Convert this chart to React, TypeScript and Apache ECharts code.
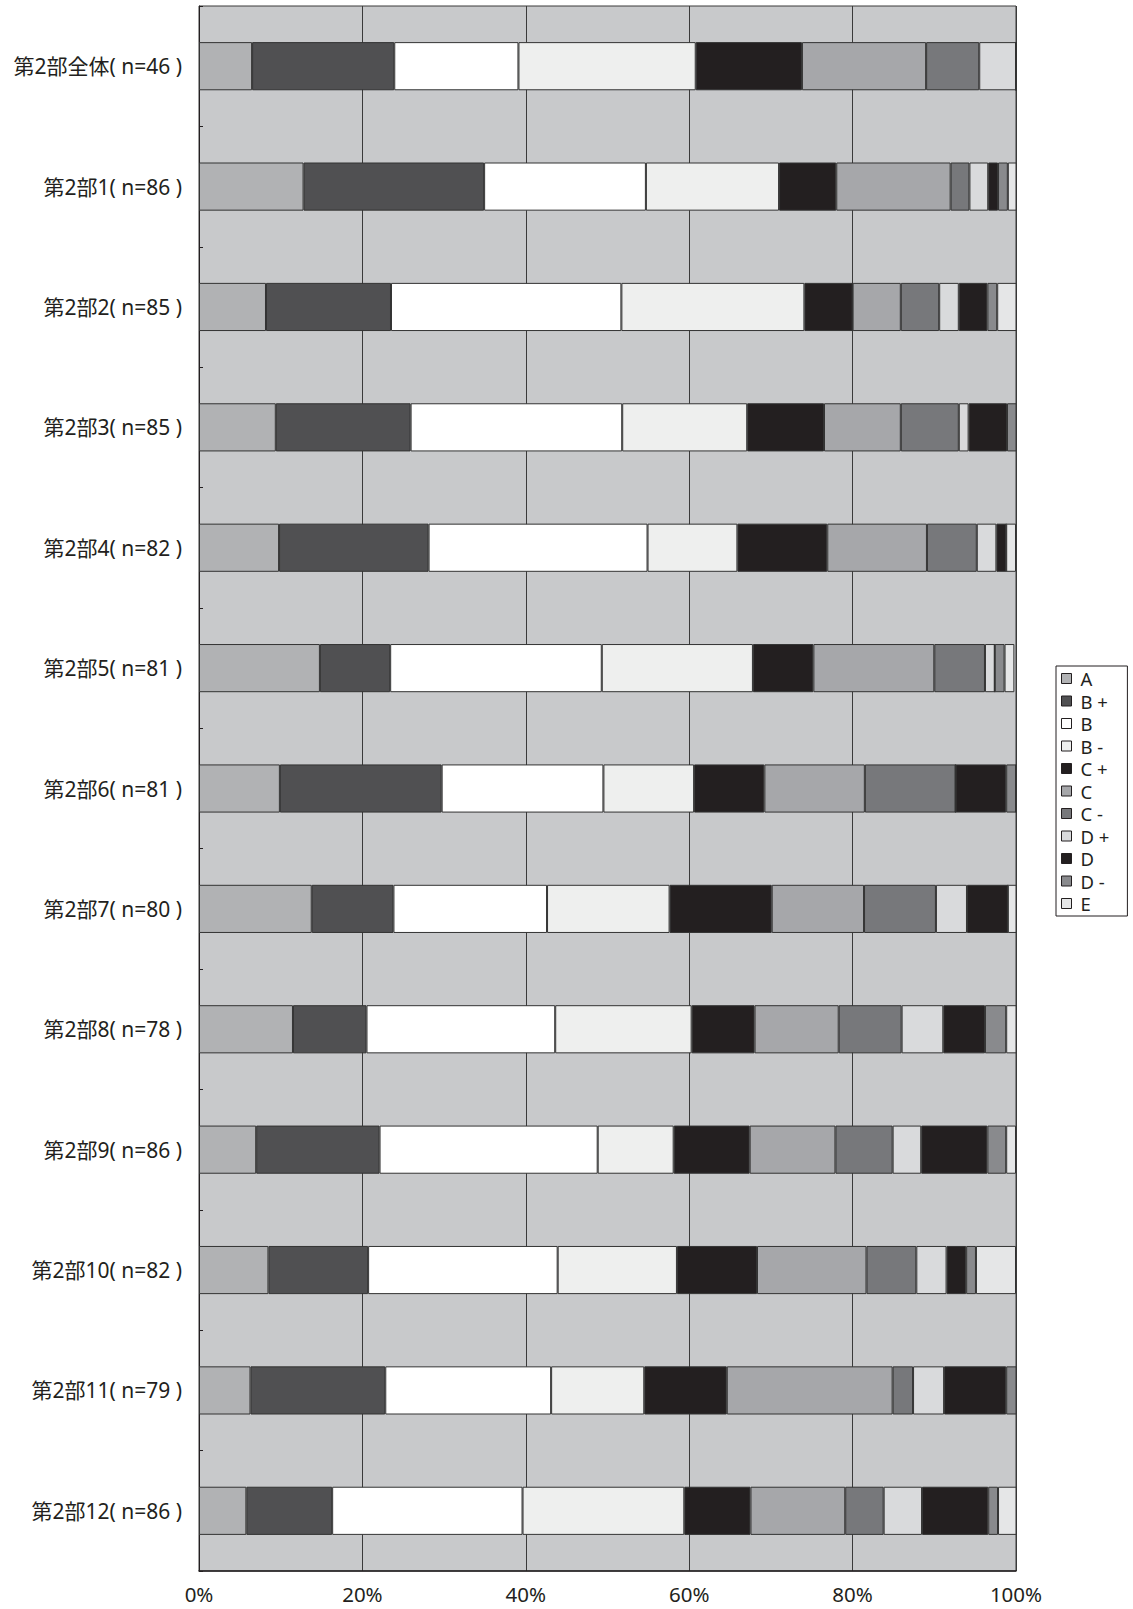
import React, { useEffect, useRef } from "react";
import * as echarts from "echarts";

const categories = [
  "第2部全体( n=46 )",
  "第2部1( n=86 )",
  "第2部2( n=85 )",
  "第2部3( n=85 )",
  "第2部4( n=82 )",
  "第2部5( n=81 )",
  "第2部6( n=81 )",
  "第2部7( n=80 )",
  "第2部8( n=78 )",
  "第2部9( n=86 )",
  "第2部10( n=82 )",
  "第2部11( n=79 )",
  "第2部12( n=86 )",
];

const seriesNames = ["A", "B +", "B", "B -", "C +", "C", "C -", "D +", "D", "D -", "E"];

const valA = [6.5, 12.8, 8.2, 9.4, 9.8, 14.8, 9.9, 13.8, 11.5, 7.0, 8.5, 6.3, 5.8];
const valBPlus = [17.4, 22.1, 15.3, 16.5, 18.3, 8.6, 19.8, 10.0, 9.0, 15.1, 12.2, 16.5, 10.5];
const valB = [15.2, 19.8, 28.2, 25.9, 26.8, 25.9, 19.8, 18.8, 23.1, 26.7, 23.2, 20.3, 23.3];
const valBMinus = [21.7, 16.3, 22.4, 15.3, 11.0, 18.5, 11.1, 15.0, 16.7, 9.3, 14.6, 11.4, 19.8];
const valCPlus = [13.0, 7.0, 5.9, 9.4, 11.0, 7.4, 8.6, 12.5, 7.7, 9.3, 9.8, 10.1, 8.1];
const valC = [15.2, 14.0, 5.9, 9.4, 12.2, 14.8, 12.3, 11.3, 10.3, 10.5, 13.4, 20.3, 11.6];
const valCMinus = [6.5, 2.3, 4.7, 7.1, 6.1, 6.2, 11.1, 8.8, 7.7, 7.0, 6.1, 2.5, 4.7];
const valDPlus = [4.5, 2.3, 2.4, 1.2, 2.4, 1.2, 0, 3.8, 5.1, 3.5, 3.7, 3.8, 4.7];
const valD = [0, 1.2, 3.5, 4.7, 1.2, 0, 6.2, 5.0, 5.1, 8.1, 2.4, 7.6, 8.1];
const valDMinus = [0, 1.2, 1.2, 1.2, 0, 1.2, 1.2, 0, 2.6, 2.3, 1.2, 1.3, 1.2];
const valE = [0, 1.2, 2.4, 0, 1.2, 1.2, 0, 1.3, 1.3, 1.2, 4.9, 0, 2.3];

const xTicks = [0, 20, 40, 60, 80, 100];

const seriesValues = [valA, valBPlus, valB, valBMinus, valCPlus, valC, valCMinus, valDPlus, valD, valDMinus, valE];
const seriesColors = [
  "#b1b2b4",
  "#505052",
  "#ffffff",
  "#eeefee",
  "#231f20",
  "#a6a7aa",
  "#77787b",
  "#d9dadc",
  "#231f20",
  "#898a8d",
  "#e5e6e7",
];

export default function App() {
  const ref = useRef<HTMLDivElement>(null);

  useEffect(() => {
    if (!ref.current) return;
    const chart = echarts.init(ref.current, null, { renderer: "svg" });
    const dark = "#231f20";
    chart.setOption({
      animation: false,
      backgroundColor: "#ffffff",
      grid: {
        left: 199,
        top: 6,
        right: 117,
        height: 1565,
        show: true,
        backgroundColor: "#c8c9cb",
        borderColor: "#3a3a3a",
        borderWidth: 1,
        containLabel: false,
      },
      legend: {
        orient: "vertical",
        left: 1056,
        top: 666,
        data: seriesNames,
        icon: "rect",
        itemWidth: 10,
        itemHeight: 10,
        itemGap: 1.5,
        padding: [2, 18, 2, 5],
        borderColor: dark,
        borderWidth: 1,
        itemStyle: { borderColor: dark, borderWidth: 1 },
        textStyle: {
          fontFamily: "Noto Sans",
          fontSize: 18.5,
          lineHeight: 21,
          color: dark,
          padding: [0, 0, 0, 4],
        },
        selectedMode: false,
      },
      xAxis: {
        type: "value",
        min: xTicks[0],
        max: xTicks[xTicks.length - 1],
        interval: 20,
        axisLine: { show: true, lineStyle: { color: dark, width: 1.5 } },
        axisTick: { show: false },
        splitLine: { show: true, lineStyle: { color: "#3a3a3a", width: 1 } },
        axisLabel: {
          formatter: "{value}%",
          fontFamily: "Noto Sans",
          fontSize: 20.5,
          color: dark,
          margin: 12,
        },
      },
      yAxis: {
        type: "category",
        data: categories,
        inverse: true,
        axisLine: { show: true, lineStyle: { color: dark, width: 1 } },
        axisTick: { show: true, inside: true, length: 4, lineStyle: { color: dark } },
        splitLine: { show: false },
        axisLabel: {
          fontFamily: "Noto Sans, Noto Sans CJK JP",
          fontSize: 21,
          color: dark,
          margin: 17,
        },
      },
      series: seriesNames.map((name, i) => ({
        name,
        type: "bar",
        stack: "total",
        barWidth: "40%",
        data: seriesValues[i],
        itemStyle: {
          color: seriesColors[i],
          borderColor: "#333333",
          borderWidth: 1,
        },
      })),
    });
    return () => chart.dispose();
  }, []);

  return (
    <div
      ref={ref}
      style={{ position: "absolute", left: 0, top: 0, width: 1133, height: 1609 }}
    />
  );
}
